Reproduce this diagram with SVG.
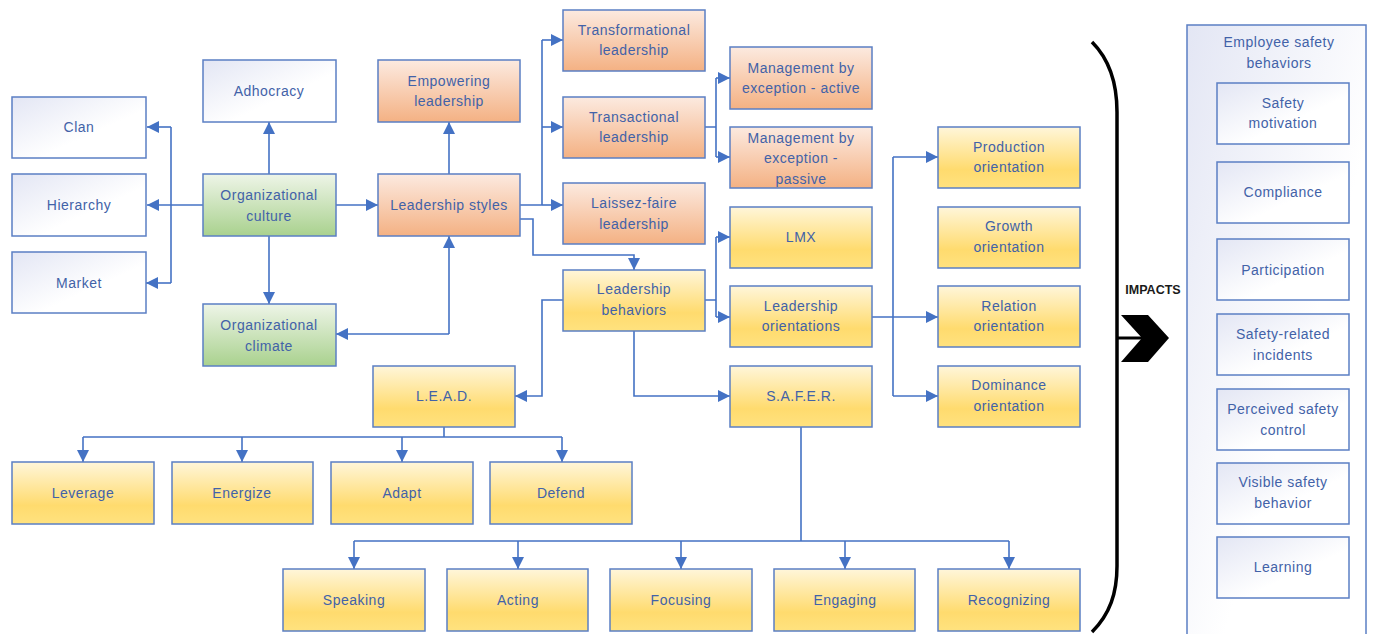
<svg xmlns="http://www.w3.org/2000/svg" width="1379" height="634" viewBox="0 0 1379 634">
<defs>
<linearGradient id="gBlue" x1="0" y1="0" x2="1" y2="1"><stop offset="0" stop-color="#E3E6F4"/><stop offset="0.6" stop-color="#FFFFFF"/><stop offset="1" stop-color="#FFFFFF"/></linearGradient>
<linearGradient id="gGreen" x1="0" y1="0" x2="0" y2="1"><stop offset="0" stop-color="#EEF5E8"/><stop offset="1" stop-color="#A9D18E"/></linearGradient>
<linearGradient id="gOrange" x1="0" y1="0" x2="0" y2="1"><stop offset="0" stop-color="#FCEAE0"/><stop offset="1" stop-color="#F4B183"/></linearGradient>
<linearGradient id="gYellow" x1="0" y1="0" x2="0" y2="1"><stop offset="0" stop-color="#FFF6DA"/><stop offset="0.7" stop-color="#FFDB6E"/><stop offset="1" stop-color="#FFE27F"/></linearGradient>
<marker id="arr" viewBox="0 0 10 10" markerUnits="userSpaceOnUse" markerWidth="12" markerHeight="12" refX="10" refY="5" orient="auto-start-reverse"><path d="M0,0 L10,5 L0,10 z" fill="#4472C4"/></marker>
<style>
rect.b{fill:url(#gBlue);stroke:#5B7FC4;stroke-width:1.5}
rect.g{fill:url(#gGreen);stroke:#5B7FC4;stroke-width:1.5}
rect.o{fill:url(#gOrange);stroke:#5B7FC4;stroke-width:1.5}
rect.y{fill:url(#gYellow);stroke:#5B7FC4;stroke-width:1.5}
text{font-family:"Liberation Sans",Arial,sans-serif;font-size:14px;fill:#4262A8;text-anchor:middle;letter-spacing:0.5px}
#connectors path{fill:none;stroke:#4472C4;stroke-width:1.6}
.a{marker-end:url(#arr)}
</style>
</defs>
<rect width="1379" height="634" fill="#FFFFFF"/>

<g id="connectors">
<path class="a" d="M203,205 H147"/>
<path d="M171,127 V283"/>
<path class="a" d="M171,127 H147"/>
<path class="a" d="M171,283 H146"/>
<path class="a" d="M269,174 V122"/>
<path class="a" d="M269,236 V304"/>
<path class="a" d="M336,205 H378"/>
<path class="a" d="M449,174 V122"/>
<path class="a" d="M449,334 H336"/>
<path class="a" d="M449,334 V236"/>
<path d="M520,205 H542 M542,40 V205"/>
<path class="a" d="M542,40 H563"/>
<path class="a" d="M542,127 H563"/>
<path class="a" d="M542,205 H563"/>
<path class="a" d="M520,219 H533 V255 H634 V270"/>
<path d="M705,127 H716 M716,78 V157"/>
<path class="a" d="M716,78 H730"/>
<path class="a" d="M716,157 H730"/>
<path d="M705,300 H716 M716,237 V317"/>
<path class="a" d="M716,237 H730"/>
<path class="a" d="M716,317 H730"/>
<path class="a" d="M563,300 H542 V396 H515"/>
<path class="a" d="M634,331 V396 H730"/>
<path d="M872,317 H893 M893,157 V396"/>
<path class="a" d="M893,157 H938"/>
<path class="a" d="M893,317 H938"/>
<path class="a" d="M893,396 H938"/>
<path d="M444,427 V437 M83,437 H562"/>
<path class="a" d="M83,437 V462"/>
<path class="a" d="M242,437 V462"/>
<path class="a" d="M402,437 V462"/>
<path class="a" d="M562,437 V462"/>
<path d="M801,427 V541 M354,541 H1009"/>
<path class="a" d="M354,541 V569"/>
<path class="a" d="M518,541 V569"/>
<path class="a" d="M681,541 V569"/>
<path class="a" d="M845,541 V569"/>
<path class="a" d="M1009,541 V569"/>
</g>

<g id="clan"><rect class="b" x="12" y="97" width="134" height="61"/><text x="79" y="132">Clan</text></g>
<g id="hierarchy"><rect class="b" x="12" y="174" width="134" height="62"/><text x="79" y="210">Hierarchy</text></g>
<g id="market"><rect class="b" x="12" y="252" width="134" height="61"/><text x="79" y="288">Market</text></g>
<g id="adhocracy"><rect class="b" x="203" y="60" width="133" height="62"/><text x="269" y="96">Adhocracy</text></g>
<g id="org-culture"><rect class="g" x="203" y="174" width="133" height="62"/><text x="269" y="200">Organizational</text><text x="269" y="221">culture</text></g>
<g id="org-climate"><rect class="g" x="203" y="304" width="133" height="62"/><text x="269" y="330">Organizational</text><text x="269" y="351">climate</text></g>
<g id="empowering"><rect class="o" x="378" y="60" width="142" height="62"/><text x="449" y="86">Empowering</text><text x="449" y="106">leadership</text></g>
<g id="styles"><rect class="o" x="378" y="174" width="142" height="62"/><text x="449" y="210">Leadership styles</text></g>
<g id="transformational"><rect class="o" x="563" y="10" width="142" height="61"/><text x="634" y="35">Transformational</text><text x="634" y="55">leadership</text></g>
<g id="transactional"><rect class="o" x="563" y="97" width="142" height="61"/><text x="634" y="122">Transactional</text><text x="634" y="142">leadership</text></g>
<g id="laissez"><rect class="o" x="563" y="183" width="142" height="61"/><text x="634" y="208">Laissez-faire</text><text x="634" y="229">leadership</text></g>
<g id="mbe-active"><rect class="o" x="730" y="47" width="142" height="62"/><text x="801" y="73">Management by</text><text x="801" y="93">exception - active</text></g>
<g id="mbe-passive"><rect class="o" x="730" y="127" width="142" height="61"/><text x="801" y="143">Management by</text><text x="801" y="163">exception -</text><text x="801" y="184">passive</text></g>
<g id="behaviors"><rect class="y" x="563" y="270" width="142" height="61"/><text x="634" y="294">Leadership</text><text x="634" y="315">behaviors</text></g>
<g id="lmx"><rect class="y" x="730" y="207" width="142" height="61"/><text x="801" y="242">LMX</text></g>
<g id="orientations"><rect class="y" x="730" y="286" width="142" height="61"/><text x="801" y="311">Leadership</text><text x="801" y="331">orientations</text></g>
<g id="safer"><rect class="y" x="730" y="366" width="142" height="61"/><text x="801" y="401">S.A.F.E.R.</text></g>
<g id="production"><rect class="y" x="938" y="127" width="142" height="61"/><text x="1009" y="152">Production</text><text x="1009" y="172">orientation</text></g>
<g id="growth"><rect class="y" x="938" y="207" width="142" height="61"/><text x="1009" y="231">Growth</text><text x="1009" y="252">orientation</text></g>
<g id="relation"><rect class="y" x="938" y="286" width="142" height="61"/><text x="1009" y="311">Relation</text><text x="1009" y="331">orientation</text></g>
<g id="dominance"><rect class="y" x="938" y="366" width="142" height="61"/><text x="1009" y="390">Dominance</text><text x="1009" y="411">orientation</text></g>
<g id="lead"><rect class="y" x="373" y="366" width="142" height="61"/><text x="444" y="401">L.E.A.D.</text></g>
<g id="leverage"><rect class="y" x="12" y="462" width="142" height="62"/><text x="83" y="498">Leverage</text></g>
<g id="energize"><rect class="y" x="172" y="462" width="141" height="62"/><text x="242" y="498">Energize</text></g>
<g id="adapt"><rect class="y" x="331" y="462" width="142" height="62"/><text x="402" y="498">Adapt</text></g>
<g id="defend"><rect class="y" x="490" y="462" width="142" height="62"/><text x="561" y="498">Defend</text></g>
<g id="speaking"><rect class="y" x="283" y="569" width="142" height="62"/><text x="354" y="605">Speaking</text></g>
<g id="acting"><rect class="y" x="447" y="569" width="141" height="62"/><text x="518" y="605">Acting</text></g>
<g id="focusing"><rect class="y" x="610" y="569" width="142" height="62"/><text x="681" y="605">Focusing</text></g>
<g id="engaging"><rect class="y" x="774" y="569" width="141" height="62"/><text x="845" y="605">Engaging</text></g>
<g id="recognizing"><rect class="y" x="938" y="569" width="142" height="62"/><text x="1009" y="605">Recognizing</text></g>

<g id="impacts">
<path d="M1092,42 C1110,60 1117,85 1117,112 L1117,566 C1117,593 1110,614 1092,632" fill="none" stroke="#000" stroke-width="3.5"/>
<line x1="1117" y1="338" x2="1142" y2="338" stroke="#000" stroke-width="3"/>
<polygon points="1121,315 1148,315 1169,338 1148,362 1121,362 1142,338" fill="#000"/>
<text x="1153" y="294" style="fill:#1a1a1a;font-weight:bold;font-size:12.5px;letter-spacing:0">IMPACTS</text>
</g>

<g id="employee-safety-behaviors">
<rect class="b" x="1187" y="25" width="179" height="615"/>
<text x="1279" y="47">Employee safety</text>
<text x="1279" y="68">behaviors</text>
</g>
<g id="safety-motivation"><rect class="b" x="1217" y="83" width="132" height="61"/><text x="1283" y="108">Safety</text><text x="1283" y="128">motivation</text></g>
<g id="compliance"><rect class="b" x="1217" y="162" width="132" height="61"/><text x="1283" y="197">Compliance</text></g>
<g id="participation"><rect class="b" x="1217" y="239" width="132" height="61"/><text x="1283" y="275">Participation</text></g>
<g id="incidents"><rect class="b" x="1217" y="314" width="132" height="61"/><text x="1283" y="339">Safety-related</text><text x="1283" y="360">incidents</text></g>
<g id="perceived"><rect class="b" x="1217" y="389" width="132" height="61"/><text x="1283" y="414">Perceived safety</text><text x="1283" y="435">control</text></g>
<g id="visible"><rect class="b" x="1217" y="463" width="132" height="61"/><text x="1283" y="487">Visible safety</text><text x="1283" y="508">behavior</text></g>
<g id="learning"><rect class="b" x="1217" y="537" width="132" height="61"/><text x="1283" y="572">Learning</text></g>
</svg>
